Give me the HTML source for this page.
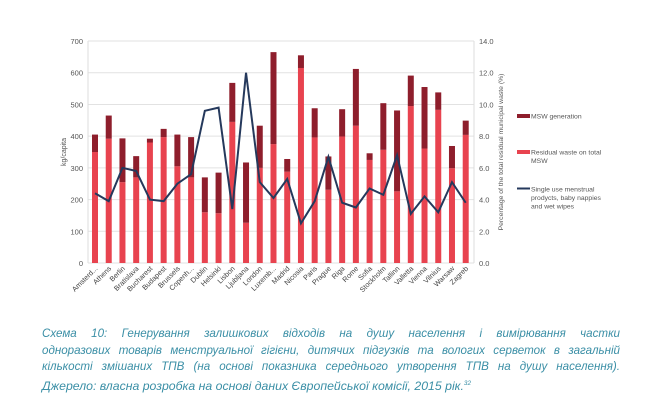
<!DOCTYPE html>
<html><head><meta charset="utf-8"><style>
html,body{margin:0;padding:0;background:#fff;}
body{width:668px;height:400px;overflow:hidden;position:relative;font-family:"Liberation Sans",sans-serif;}
.cap{position:absolute;left:42px;width:578px;top:326px;font-style:italic;font-size:11.6px;line-height:16.6px;color:#3b8fa6;}
.cap div{text-align:justify;text-align-last:justify;white-space:nowrap;}
.cap div.l{text-align-last:left;}
.sx{display:inline-block;transform:scaleX(1.06);transform-origin:left;}
</style></head><body>
<svg id="c" width="668" height="320" style="position:absolute;left:0;top:0" font-family="Liberation Sans, sans-serif"></svg>
<div class="cap">
<div style="white-space:normal">Схема 10: Генерування залишкових відходів на душу населення і вимірювання частки</div>
<div style="white-space:normal">одноразових товарів менструальної гігієни, дитячих підгузків та вологих серветок в загальній</div>
<div style="white-space:normal">кількості змішаних ТПВ (на основі показника середнього утворення ТПВ на душу населення).</div>
<div class="l"><span class="sx">Джерело: власна розробка на основі даних Європейської комісії, 2015 рік.<sup style="font-size:6px">32</sup></span></div>
</div>
<script>
var names=["Amsterd...","Athens","Berlin","Bratislava","Bucharest","Budapest","Brussels","Copenh...","Dublin","Helsinki","Lisbon","Ljubljana","London","Luxemb...","Madrid","Nicosia","Paris","Prague","Riga","Rome","Sofia","Stockholm","Tallinn","Valletta","Vienna","Vilnius","Warsaw","Zagreb"];
var tot=[405,465,393,337,392,423,405,397,270,285,568,317,433,665,328,655,488,336,485,612,346,504,481,591,555,538,369,449];
var res=[350,392,255,270,380,397,305,270,160,157,445,127,300,375,288,615,396,231,399,433,325,357,226,495,361,483,299,404];
var ln=[4.4,3.9,6.0,5.8,4.0,3.9,5.0,5.6,9.6,9.8,3.4,12.0,5.1,4.1,5.3,2.5,3.9,6.7,3.8,3.5,4.7,4.3,6.8,3.1,4.2,3.2,5.1,3.8];
var s='';
function Y(v){return 263-v*0.3171;}
for(var k=0;k<=7;k++){var y=Y(k*100);
s+='<line x1="88" x2="474" y1="'+y+'" y2="'+y+'" stroke="#e2e2e2" stroke-width="1"/>';
s+='<text x="83" y="'+(y+3)+'" font-size="7.5" fill="#555" text-anchor="end">'+(k*100)+'</text>';
s+='<text x="479" y="'+(y+3)+'" font-size="7.5" fill="#555">'+(k*2).toFixed(1)+'</text>';}
s+='<line x1="88" x2="88" y1="41" y2="263" stroke="#ddd"/><line x1="474" x2="474" y1="41" y2="263" stroke="#ddd"/>';
var pts=[];
for(var i=0;i<28;i++){var x=95+i*13.73;
s+='<rect x="'+(x-3)+'" y="'+Y(res[i])+'" width="6" height="'+(res[i]*0.3171)+'" fill="#e8434f"/>';
s+='<rect x="'+(x-3)+'" y="'+Y(tot[i])+'" width="6" height="'+((tot[i]-res[i])*0.3171)+'" fill="#8e1e2c"/>';
pts.push(x+','+(263-ln[i]*15.857));
s+='<text transform="translate('+(x+3)+',269) rotate(-45)" font-size="7.2" fill="#444" text-anchor="end">'+names[i]+'</text>';}
s+='<polyline points="'+pts.join(' ')+'" fill="none" stroke="#25395c" stroke-width="2"/>';
s+='<text transform="translate(66,152) rotate(-90)" font-size="7" fill="#555" text-anchor="middle">kg/capita</text>';
s+='<text transform="translate(503,152) rotate(-90)" font-size="6.8" fill="#555" text-anchor="middle">Percentage of the total residual municipal waste (%)</text>';
s+='<rect x="517" y="114" width="13" height="4" fill="#8e1e2c"/><text x="531" y="118.5" font-size="6.8" fill="#555">MSW generation</text>';
s+='<rect x="517" y="150" width="13" height="4" fill="#e8434f"/><text x="531" y="154.5" font-size="6.8" fill="#555">Residual waste on total</text><text x="531" y="163" font-size="6.8" fill="#555">MSW</text>';
s+='<rect x="517" y="187.5" width="13" height="2" fill="#25395c"/><text x="531" y="191.5" font-size="6.8" fill="#555">Single use menstrual</text><text x="531" y="200" font-size="6.8" fill="#555">prodycts, baby nappies</text><text x="531" y="208.5" font-size="6.8" fill="#555">and wet wipes</text>';
document.getElementById('c').innerHTML=s;
</script>
</body></html>
